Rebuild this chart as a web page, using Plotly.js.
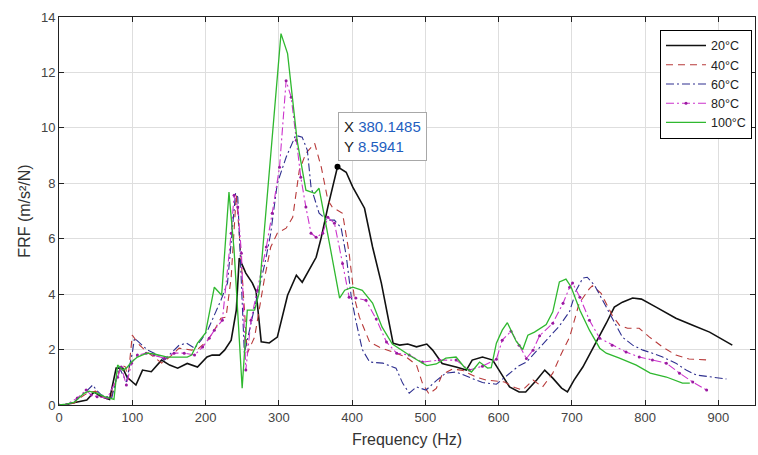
<!DOCTYPE html>
<html>
<head>
<meta charset="utf-8">
<script src="https://cdn.plot.ly/plotly-3.0.1.min.js"></script>
<style>html,body{margin:0;padding:0;background:#fff}#chart{width:758px;height:455px}</style>
</head>
<body>
<div id="chart"></div>
<script>
// ---- data ----
const seriesNames = ["20°C", "40°C", "60°C", "80°C", "100°C"];

const x20 = [0,10,20,30,38,48,58,69,78,87,93,105,114,126,140,151,162,175,189,202,209,219,226,235,242,246,255,264,269,276,287,298,312,324,332,351,358,367,380.1485,392,401,417,428,440,449,456,465,476,488,502,510,523,542,556,564,578,592,606,615,628,637,652,663,674,686,694,703,715,733,747,758,769,783,795,815,842,865,888,919];
const y20 = [0,0.02,0.08,0.15,0.18,0.47,0.3,0.2,1.33,1.33,1.0,0.72,1.26,1.2,1.62,1.44,1.33,1.5,1.37,1.73,1.8,1.8,1.98,2.34,3.42,5.3,4.76,4.4,4.1,2.28,2.24,2.45,3.96,4.68,4.43,5.33,6.05,7.15,8.5941,8.4,7.86,7.1,5.7,4.4,3.17,2.23,2.16,2.2,2.1,2.2,1.98,1.5,1.37,1.26,1.62,1.73,1.62,1.0,0.65,0.47,0.47,0.9,1.26,0.97,0.61,0.47,0.9,1.37,2.23,2.95,3.53,3.71,3.86,3.82,3.53,3.13,2.88,2.63,2.16];

const x40 = [0,10,21,31,40,50,60,70,78,85,91,94,100,110,120,130,140,151,164,181,191,203,212,221,228,235,242,248,257,267,280,289,298,310,319,328,337,349,358,367,373,387,396,403,410,424,437,455,474,488,496,505,515,523,537,551,570,583,594,608,622,633,647,660,674,686,697,710,724,728,740,755,765,776,792,806,824,842,860,888];
const y40 = [0,0.02,0.07,0.3,0.45,0.5,0.3,0.2,0.9,1.44,1.37,0.9,2.52,2.16,1.91,1.73,1.51,1.73,2.05,1.98,2.05,2.34,2.7,3.13,3.17,4.6,7.6,5.5,1.87,2.45,4.5,5.7,6.2,6.38,6.77,8.47,9.08,9.44,8.58,7.39,7.14,6.92,5.48,3.89,3.17,2.27,2.09,1.91,1.73,1.44,0.79,0.4,0.6,1.1,1.3,1.25,1.0,0.9,0.88,0.83,0.63,0.54,0.9,0.65,1.15,1.87,2.45,3.67,4.2,4.3,4.03,3.24,2.88,2.77,2.77,2.45,2.09,1.8,1.66,1.62];

const x60 = [0,10,20,32,39,46,51,58,72,82,92,96,100,103,110,121,130,144,153,164,174,185,194,203,209,221,230,241,244,253,267,281,289,298,310,323,332,339,344,355,366,376,385,392,399,405,414,424,442,460,469,478,488,501,515,528,542,560,578,597,611,628,638,652,665,683,697,706,715,721,731,742,755,769,783,797,810,824,842,856,870,888,911];
const y60 = [0,0.02,0.1,0.36,0.54,0.72,0.54,0.36,0.25,1.37,0.83,1.37,1.87,2.41,2.23,1.98,1.87,1.62,1.87,2.16,2.23,2.05,2.34,2.7,3.06,3.78,4.4,7.64,7.5,1.87,3.53,5.1,6.2,8.0,8.94,9.73,9.66,9.19,7.86,6.92,6.67,6.67,6.4,5.4,3.89,3.06,2.0,1.55,1.51,1.33,0.79,0.43,0.65,0.54,0.88,1.15,1.19,1.01,0.81,0.75,1.05,1.42,1.55,1.95,2.3,2.85,3.38,4.14,4.58,4.61,4.32,3.78,3.17,2.45,2.16,1.98,1.87,1.73,1.51,1.26,1.08,1.01,0.94];

const x80 = [0,10,25,37,44,52,66,80,85,92,99,107,119,130,144,157,171,185,196,205,212,223,235,239,244,249,255,262,271,283,291,301,310,317,324,330,337,344,351,360,367,376,387,396,405,419,433,447,461,478,496,519,542,560,578,597,605,617,628,638,647,656,674,688,697,701,711,724,738,755,774,792,810,829,847,865,884];
const y80 = [0,0.02,0.25,0.54,0.36,0.3,0.25,1.0,1.37,0.72,1.51,1.8,1.87,1.8,1.69,1.87,1.87,1.8,2.09,2.41,2.7,3.06,6.2,7.57,7.14,5.48,1.26,3.06,4.14,5.7,6.92,8.58,11.7,11.1,9.55,8.22,7.14,6.2,6.05,6.2,6.77,6.56,5.11,3.89,3.86,3.78,3.1,2.27,1.87,1.8,1.55,1.62,1.62,1.26,1.4,1.65,2.34,2.66,2.16,1.68,1.98,2.5,2.95,3.67,4.25,4.4,3.89,3.06,2.41,2.16,1.91,1.73,1.62,1.51,1.15,0.83,0.54];

const x100 = [0,10,21,34,41,52,62,75,80,87,92,99,107,120,130,148,175,181,189,200,212,222,232,239,250,257,267,273,303,312,325,337,349,355,364,373,383,390,401,414,428,441,455,482,502,515,528,542,553,563,574,585,590,597,605,612,624,633,640,649,665,674,683,692,699,711,724,738,747,765,788,807,829,851,861];
const y100 = [0,0.03,0.1,0.42,0.5,0.42,0.3,0.2,1.44,1.26,1.33,1.55,1.73,1.87,1.84,1.73,1.73,1.8,2.23,2.6,4.25,3.96,7.68,5.58,0.61,3.42,3.42,4.03,13.4,12.68,9.55,7.75,7.64,7.82,6.56,5.22,3.86,4.14,4.25,4.14,3.68,2.81,2.2,1.73,1.42,1.48,1.69,1.73,1.37,1.19,1.55,1.33,1.35,2.23,2.7,2.97,2.3,2.0,2.52,2.63,2.9,3.36,4.44,4.54,4.26,3.42,2.7,2.05,1.87,1.69,1.44,1.15,1.01,0.79,0.79];

const tipX = [380.1485];
const tipY = [8.5941];

const xTicks = [0,100,200,300,400,500,600,700,800,900];
const yTicks = [0,2,4,6,8,10,12,14];

// ---- chart ----
const FONT = "Liberation Sans, Arial, sans-serif";
const traces = [
  {x:x20, y:y20, name:seriesNames[0], mode:'lines', line:{color:'#111111', width:1.6}},
  {x:x40, y:y40, name:seriesNames[1], mode:'lines', line:{color:'#b83a3a', width:1.1, dash:'7px,5px'}},
  {x:x60, y:y60, name:seriesNames[2], mode:'lines', line:{color:'#2e2f8f', width:1.1, dash:'8px,3px,2px,3px'}},
  {x:x80, y:y80, name:seriesNames[3], mode:'lines+markers', line:{color:'#cc33cc', width:1.1, dash:'8px,3px,2px,3px'}, marker:{size:3, color:'#9a1aa0'}},
  {x:x100, y:y100, name:seriesNames[4], mode:'lines', line:{color:'#2fb82f', width:1.3}},
  {x:tipX, y:tipY, mode:'markers', showlegend:false, marker:{size:6, color:'#000'}, hoverinfo:'skip'}
];

const layout = {
  width:758, height:455,
  margin:{l:59, r:3, t:17, b:50},
  paper_bgcolor:'#fff', plot_bgcolor:'#fff',
  font:{family:FONT, size:13, color:'#444'},
  showlegend:true,
  legend:{x:0.8635, y:0.967, xanchor:'left', yanchor:'top', bgcolor:'#fff', bordercolor:'#000', borderwidth:1,
          font:{family:FONT, size:12.5, color:'#222'}, tracegroupgap:0, itemwidth:40},
  xaxis:{range:[0,950], tickvals:xTicks, ticks:'inside', ticklen:5, tickcolor:'#222', showline:true, linecolor:'#222', linewidth:1,
         mirror:'ticks', showgrid:true, gridcolor:'#dedede', zeroline:false, tickfont:{size:13, color:'#444'},
         title:{text:'Frequency (Hz)', font:{size:16, color:'#333'}, standoff:10}},
  yaxis:{range:[0,14], tickvals:yTicks, ticks:'inside', ticklen:5, tickcolor:'#222', showline:true, linecolor:'#222', linewidth:1,
         mirror:'ticks', showgrid:true, gridcolor:'#dedede', zeroline:false, tickfont:{size:13, color:'#444'},
         title:{text:'FRF (m/s²/N)', font:{size:16, color:'#333'}, standoff:6}},
  annotations:[{
    x:tipX[0], y:tipY[0], xref:'x', yref:'y', showarrow:false, xanchor:'left', yanchor:'bottom', xshift:0, yshift:6,
    align:'left', bgcolor:'#ffffff', bordercolor:'#a8a8a8', borderwidth:1, borderpad:5,
    font:{family:FONT, size:15, color:'#222'},
    text:'X <span style="color:#1f5fbf">'+tipX[0].toFixed(4)+'</span><br>Y <span style="color:#1f5fbf">'+tipY[0].toFixed(4)+'</span>'
  }]
};

Plotly.newPlot('chart', traces, layout, {displayModeBar:false, staticPlot:true});
</script>
</body>
</html>
